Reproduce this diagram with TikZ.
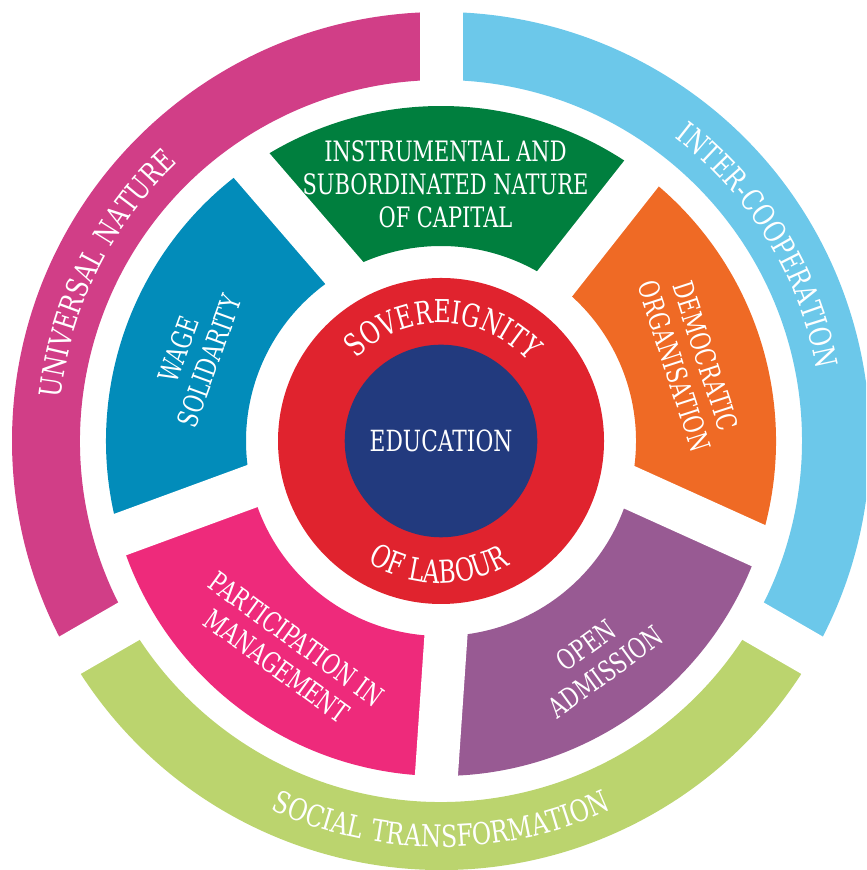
\documentclass[tikz,border=0pt]{standalone}
\usepackage{fontspec}
\setmainfont{DejaVu Serif}[FakeStretch=0.745]
\newfontfamily\ringfont{DejaVu Serif}[FakeStretch=0.74, LetterSpace=3]
\newfontfamily\outerfont{DejaVu Serif}[FakeStretch=0.78, LetterSpace=6.5]
\usetikzlibrary{decorations.text}

\definecolor{universal}{HTML}{D13E87}
\definecolor{intercoop}{HTML}{6CC8EA}
\definecolor{social}{HTML}{BBD46E}
\definecolor{capital}{HTML}{007F3E}
\definecolor{democratic}{HTML}{EF6A25}
\definecolor{admission}{HTML}{985A93}
\definecolor{participation}{HTML}{EE2A7B}
\definecolor{wage}{HTML}{028CBA}
\definecolor{sovereignty}{HTML}{E0232E}
\definecolor{education}{HTML}{223A7E}

\newcommand{\sector}[5]{%
  \fill[#1] (#2:#5) arc[start angle=#2, end angle=#3, radius=#5]
    -- (#3:#4) arc[start angle=#3, end angle=#2, radius=#4] -- cycle;}

\tikzset{
  segtext/.style={text=white, align=center, font=\fontsize{8}{9.4}\selectfont},
  gap/.style={white, line width=4.3mm},
  ringtext/.style={decorate, decoration={text along path, text align=center,
    text color=white, text={#1}}}
}

\begin{document}
\begin{tikzpicture}
  \clip (0,0) rectangle (8.66,8.70);
  \begin{scope}[shift={(4.41,4.29)}]
    \sector{universal}{90}{210}{3.61}{4.29}
    \sector{social}{210}{330}{3.61}{4.29}
    \sector{intercoop}{-30}{90}{3.61}{4.29}
    \draw[gap] (90:3.5) -- (90:4.45);
    \draw[gap] (210:3.5) -- (210:4.45);
    \draw[gap] (330:3.5) -- (330:4.45);

    \sector{capital}{53.5}{123.5}{1.95}{3.35}
    \sector{wage}{123.5}{195}{1.95}{3.35}
    \sector{participation}{195}{270.3}{1.95}{3.35}
    \sector{admission}{270.3}{343}{1.95}{3.35}
    \sector{democratic}{-17}{53.5}{1.95}{3.35}
    \draw[gap] (1.014,1.417) -- (2.115,2.814);
    \draw[gap] (-0.831,1.523) -- (-2.006,2.884);
    \draw[gap] (-1.686,-0.377) -- (-3.367,-0.994);
    \draw[gap] (0.065,-1.72) -- (-0.057,-3.505);
    \draw[gap] (1.693,-0.377) -- (3.332,-1.118);

    \node[circle, fill=sovereignty, minimum size=3.26cm, inner sep=0] (labour) at (0,0) {};
    \node[circle, fill=education, minimum size=1.926cm, inner sep=0, text=white,
      font=\fontsize{8.3}{9.4}\selectfont] (educ) at (0,0) {EDUCATION};

    \node[segtext] (instr) at (89:2.565) {INSTRUMENTAL AND\\SUBORDINATED NATURE\\OF CAPITAL};
    \node[segtext, rotate=-72] (democ) at (17.8:2.615) {DEMOCRATIC\\ORGANISATION};
    \node[segtext, rotate=36] (admis) at (305.4:2.67) {OPEN\\ADMISSION};
    \node[segtext, rotate=-36] (partic) at (233.9:2.62) {PARTICIPATION IN\\MANAGEMENT};
    \node[segtext, rotate=70] (wages) at (160.9:2.617) {WAGE\\SOLIDARITY};

    \path[ringtext={|\outerfont\fontsize{8.6}{10}\selectfont|UNIVERSAL NATURE}]
      (203.5:3.83) arc[start angle=203.5, end angle=103.5, radius=3.83];
    \path[ringtext={|\outerfont\fontsize{8.6}{10}\selectfont|INTER-COOPERATION}]
      (81.6:3.83) arc[start angle=81.6, end angle=-18.4, radius=3.83];
    \path[ringtext={|\outerfont\fontsize{8.6}{10}\selectfont|SOCIAL TRANSFORMATION}]
      (215:4.06) arc[start angle=215, end angle=325, radius=4.06];
    \path[ringtext={|\ringfont\fontsize{9}{10}\selectfont|SOVEREIGNITY}]
      (139:1.18) arc[start angle=139, end angle=39, radius=1.18];
    \path[ringtext={|\ringfont\fontsize{9}{10}\selectfont|OF LABOUR}]
      (219:1.42) arc[start angle=219, end angle=319, radius=1.42];
  \end{scope}
\end{tikzpicture}
\end{document}
